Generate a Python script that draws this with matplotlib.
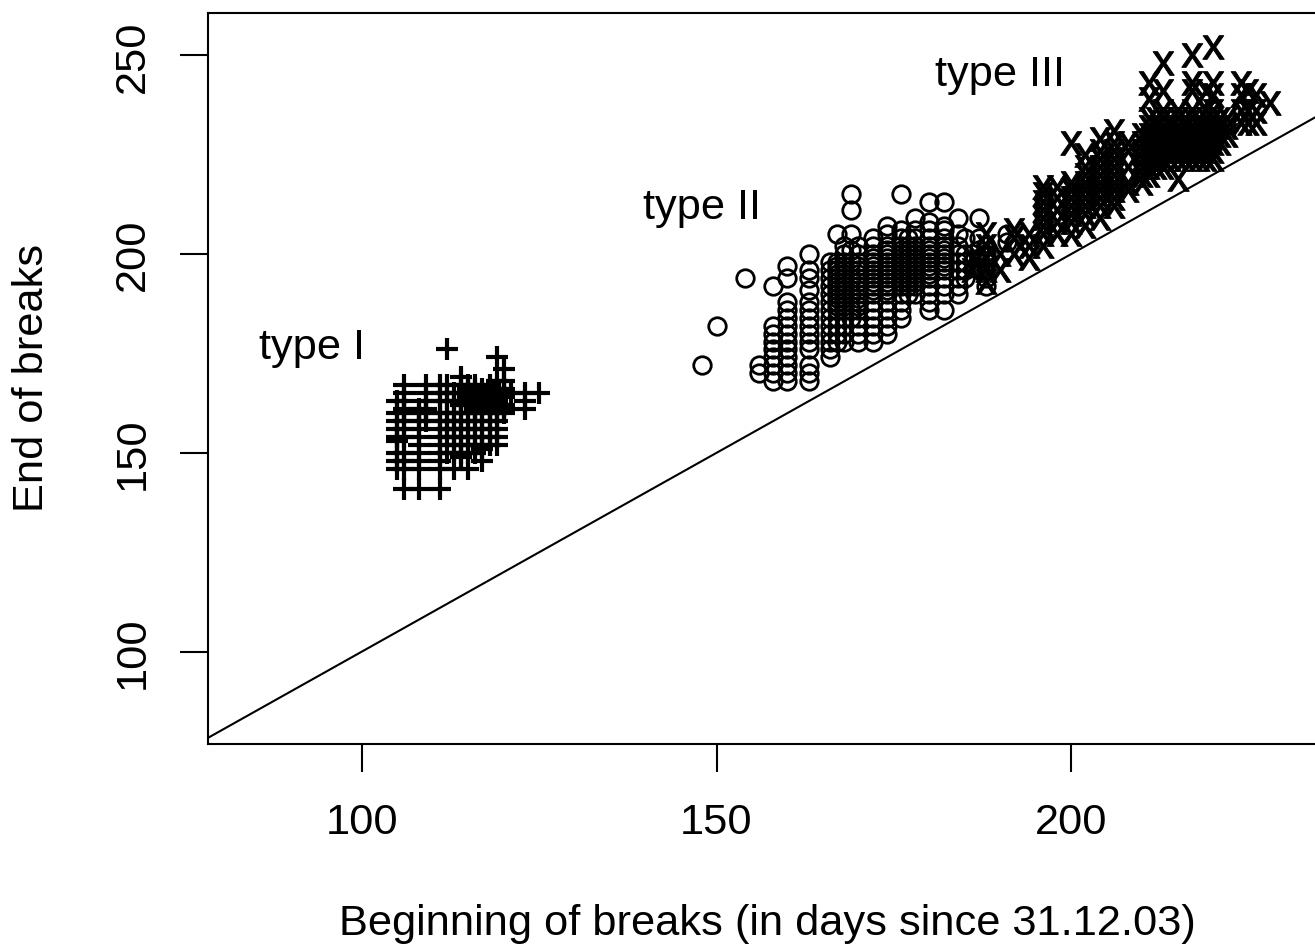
import matplotlib
matplotlib.use("Agg")
import matplotlib.pyplot as plt
from matplotlib.font_manager import FontProperties
from matplotlib.textpath import TextPath
from matplotlib.path import Path
from matplotlib.transforms import Affine2D

plt.rcParams['font.family'] = ['Liberation Sans', 'DejaVu Sans']

# Type I: beginning day -> end days
type1_begin = [105, 106, 108, 109, 111, 112, 113, 114, 115, 116, 117, 118, 119, 120, 121, 123, 125]
type1_end = [
    [146, 148, 150, 153, 154, 156, 158, 160, 163],
    [141, 146, 148, 150, 154, 156, 158, 160, 161, 163, 165, 167],
    [141, 146, 148, 150, 152, 154, 156, 158, 160, 161],
    [158, 160, 161, 163, 165, 167],
    [141, 146, 148, 150, 152, 154, 156, 158, 160, 163, 165, 167],
    [150, 154, 156, 158, 160, 163, 165, 167, 176],
    [146, 150, 152, 154, 156, 158, 160, 163, 165],
    [149, 150, 152, 154, 156, 158, 160, 162, 163, 165, 167, 169],
    [146, 150, 152, 154, 156, 158, 160, 162, 164, 165, 166, 167],
    [150, 152, 154, 156, 158, 160, 161, 163, 164, 165, 166, 167],
    [148, 151, 152, 154, 156, 158, 160, 162, 163, 164, 165, 166],
    [152, 154, 156, 158, 160, 161, 162, 163, 164, 165, 166, 167],
    [152, 154, 156, 158, 160, 161, 162, 163, 164, 165, 166, 168, 174],
    [160, 161, 162, 164, 165, 166, 168, 171],
    [165],
    [161, 163, 165],
    [165],
]

# Type II
type2_begin = [148, 150, 154, 156, 158, 160, 163, 166, 167, 168, 169, 170, 172, 174, 176, 177,
               178, 180, 182, 184, 185, 187, 188, 191]
type2_end = [
    [172],
    [182],
    [194],
    [170, 172],
    [168, 170, 172, 174, 176, 178, 180, 182, 192],
    [168, 170, 172, 174, 176, 178, 180, 182, 184, 186, 188, 194, 197],
    [168, 170, 172, 176, 178, 180, 182, 184, 186, 188, 191, 194, 196, 200],
    [174, 176, 178, 180, 182, 184, 186, 188, 190, 192, 194, 196, 198],
    [178, 180, 182, 184, 186, 187, 188, 189, 190, 191, 192, 193, 194, 195, 196, 197, 198, 205],
    [178, 180, 182, 184, 186, 187, 188, 189, 190, 191, 192, 193, 194, 195, 196, 197, 198, 200, 202],
    [184, 186, 190, 194, 198, 201, 205, 211, 215],
    [178, 180, 182, 184, 186, 187, 188, 189, 190, 191, 192, 193, 194, 195, 196, 197, 198, 200, 202],
    [178, 180, 182, 184, 186, 188, 190, 191, 192, 193, 194, 195, 196, 197, 198, 199, 200, 202, 204],
    [180, 182, 184, 186, 188, 190, 191, 192, 193, 194, 195, 196, 197, 198, 199, 200, 201, 202, 205, 207],
    [184, 186, 188, 190, 192, 193, 194, 195, 196, 197, 198, 199, 200, 201, 202, 204, 206, 215],
    [190, 192, 193, 194, 195, 196, 197, 198, 199, 200, 201, 202, 204],
    [190, 192, 193, 194, 195, 196, 197, 198, 199, 200, 201, 202, 204, 206, 209],
    [186, 188, 190, 192, 194, 195, 196, 197, 198, 199, 200, 201, 202, 204, 206, 208, 213],
    [186, 190, 192, 194, 196, 197, 198, 199, 200, 201, 202, 204, 206, 207, 213],
    [190, 192, 194, 196, 198, 200, 202, 205, 209],
    [194, 196, 198, 200, 204],
    [196, 199, 201, 204, 209],
    [192, 194, 198, 200, 202],
    [203, 205],
]

# Type III
type3_begin = [186, 188, 190, 192, 194, 196, 198, 200, 202, 204, 206, 208, 210, 211, 212, 213,
               214, 215, 216, 217, 218, 219, 220, 221, 222, 224, 225, 226, 228]
type3_end = [
    [196, 199],
    [193, 196, 199, 202, 205],
    [196, 200],
    [200, 204, 206],
    [199, 202, 205],
    [202, 205, 207, 209, 211, 213, 215, 217],
    [205, 208, 211, 214, 217],
    [205, 208, 210, 212, 214, 216, 218, 228],
    [207, 210, 212, 214, 216, 218, 220, 222, 225],
    [209, 212, 214, 216, 218, 220, 222, 224, 226, 229],
    [212, 214, 216, 218, 220, 222, 224, 226, 228, 231],
    [216, 218, 222, 226, 228],
    [218, 220, 222, 224, 226, 228, 230],
    [220, 222, 224, 226, 228, 230, 232, 234, 239, 243],
    [222, 224, 226, 228, 230, 232, 234],
    [222, 224, 226, 228, 230, 232, 234, 236, 241, 248],
    [224, 226, 228, 230, 232, 234],
    [219, 224, 226, 228, 230, 232, 234, 236],
    [224, 226, 228, 230, 232, 234],
    [224, 226, 228, 230, 232, 234, 236, 241, 243, 250],
    [224, 226, 228, 230, 232, 234],
    [224, 226, 228, 230, 232, 234, 236, 241],
    [224, 226, 228, 230, 232, 234, 236, 240, 243, 252],
    [228, 230, 232, 234],
    [230, 232, 234],
    [233, 236, 240, 243],
    [233, 236, 241],
    [233, 236, 240],
    [238],
]

x_ticks = [100, 150, 200]
y_ticks = [100, 150, 200, 250]
x_title = "Beginning of breaks (in days since 31.12.03)"
y_title = "End of breaks"
annotations = [("type I", 93, 176.6), ("type II", 148, 211.8), ("type III", 190, 245.2)]


def flatten(begins, ends):
    xs, ys = [], []
    for b, col in zip(begins, ends):
        for e in col:
            xs.append(b)
            ys.append(e)
    return xs, ys


W, H = 1315, 945
FS = 31.2
fig = plt.figure(figsize=(W / 100, H / 100), dpi=100)
L, R, T, B = 208, 1318, 14, 745
ax = fig.add_axes([L / W, 1 - B / H, (R - L) / W, (B - T) / H])
ax.set_xlim(78.3, 234.8)
ax.set_ylim(76.75, 260.65)

# the x marker is the letter itself, as in the reference
glyph = TextPath((0, 0), "x", size=1, prop=FontProperties(family="Liberation Sans"))
bb = glyph.get_extents()
glyph = Path(Affine2D().translate(-(bb.x0 + bb.x1) / 2, -(bb.y0 + bb.y1) / 2).transform_path(glyph).vertices,
             glyph.codes)

x1, y1 = flatten(type1_begin, type1_end)
x2, y2 = flatten(type2_begin, type2_end)
x3, y3 = flatten(type3_begin, type3_end)

ax.plot(x2, y2, ls="none", marker="o", ms=12.6, mfc="none", mec="black", mew=2.0)
ax.plot(x1, y1, ls="none", marker="+", ms=15.8, mec="black", mew=3.0)
ax.scatter(x3, y3, marker=glyph, s=290, c="black", linewidths=0.7, edgecolors="black")
ax.axline((100, 100), slope=1, color="black", lw=1.5)

for label, tx, ty in annotations:
    ax.text(tx, ty, label, fontsize=FS, ha="center", va="center")

ax.set_xticks(x_ticks)
ax.set_yticks(y_ticks)
ax.tick_params(axis="both", length=20, width=1.5, labelsize=FS, color="black")
ax.tick_params(axis="x", pad=21.5)
ax.tick_params(axis="y", pad=20)
for lab in ax.get_yticklabels():
    lab.set_rotation(90)
    lab.set_va("center")
for s in ax.spines.values():
    s.set_linewidth(1.5)

ax.set_xlabel(x_title, fontsize=FS)
ax.set_ylabel(y_title, fontsize=FS)
ax.xaxis.set_label_coords((767 - L) / (R - L), (B - 924) / (B - T), transform=ax.transAxes)
ax.yaxis.set_label_coords((32 - L) / (R - L), (B - 378) / (B - T), transform=ax.transAxes)
ax.xaxis.label.set_va("center")
ax.yaxis.label.set_va("center")

fig.savefig("out.png", dpi=100)
